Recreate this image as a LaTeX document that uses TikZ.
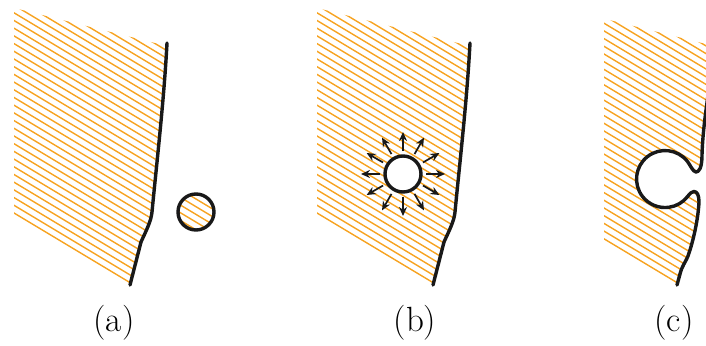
\documentclass[tikz,border=0pt]{standalone}
\usetikzlibrary{arrows.meta}
\definecolor{hatchorange}{RGB}{247,163,33}
\tikzset{
  hatchline/.style={hatchorange, line width=1.4pt},
  edgeline/.style={black!90, line width=3.4pt, line join=round, line cap=round},
  ray/.style={black!90, line width=1.7pt, -{Stealth[length=9pt,width=8pt]}},
  panellabel/.style={anchor=base, inner sep=0pt, font=\fontsize{35}{42}\selectfont},
}
\newcommand{\myhatch}{\foreach \k in {0,...,42} {\draw[hatchline] (0,{204.6-7.7*\k}) -- (760,{204.6-7.7*\k+456});}}
\begin{document}
\begin{tikzpicture}[x=1pt,y=-1pt]
\useasboundingbox (0,0) rectangle (706,345);
\clip (0,0) rectangle (706,345);
% ---------- panel (a) ----------
\begin{scope}
  \clip (14,8) -- (167,46) .. controls (164,100) and (157,160) .. (152,212)
        .. controls (151.2,221) and (146,231) .. (141,242) -- (130,286) -- (14,214) -- cycle;
  \myhatch
\end{scope}
\draw[edgeline] (167,43) .. controls (164,100) and (157,160) .. (152,212)
        .. controls (151.2,221) and (146,231) .. (141,242) -- (130,285);
\coordinate (ac) at (196,212);
\begin{scope}
  \clip (ac) circle[radius=18];
  \myhatch
\end{scope}
\draw[edgeline] (ac) circle[radius=18];
\node[panellabel] (la) at (114,331) {(a)};
% ---------- panel (b) ----------
\begin{scope}[xshift=303pt]
  \begin{scope}
    \clip (14,8) -- (167,46) .. controls (164,100) and (157,160) .. (152,212)
          .. controls (151.2,221) and (146,231) .. (141,242) -- (130,286) -- (14,214) -- cycle;
    \myhatch
  \end{scope}
  \draw[edgeline] (167,43) .. controls (164,100) and (157,160) .. (152,212)
          .. controls (151.2,221) and (146,231) .. (141,242) -- (130,285);
\end{scope}
\coordinate (bc) at (403,174);
\fill[white] (bc) circle[radius=18];
\draw[edgeline] (bc) circle[radius=18];
\foreach \a in {0,30,...,330} {
  \draw[ray] ([shift={(\a:23)}]bc) -- ([shift={(\a:42)}]bc);
}
\node[panellabel] (lb) at (415,331) {(b)};
% ---------- panel (c) ----------
\begin{scope}
  \clip (604,18.7) -- (714,46) .. controls (710,90) and (703,120) .. (702,155)
        .. controls (702,168) and (699,172) .. (696,172)
        .. controls (693,172) and (690,164.7) .. (687.5,161.5)
        arc[start angle=-38, end angle=-322, radius=28.5]
        .. controls (690,193.3) and (692,191.5) .. (694,191.5)
        .. controls (697,191.5) and (699,195) .. (699,202)
        .. controls (698,222) and (692,245) .. (688,256)
        .. controls (685,263) and (682,266) .. (680,274) -- (677,286) -- (604,240.7) -- cycle;
  \begin{scope}[xshift=547pt]
    \myhatch
  \end{scope}
\end{scope}
\draw[edgeline] (714,43) .. controls (710,90) and (703,120) .. (702,155)
        .. controls (702,168) and (699,172) .. (696,172)
        .. controls (693,172) and (690,164.7) .. (687.5,161.5)
        arc[start angle=-38, end angle=-322, radius=28.5]
        .. controls (690,193.3) and (692,191.5) .. (694,191.5)
        .. controls (697,191.5) and (699,195) .. (699,202)
        .. controls (698,222) and (692,245) .. (688,256)
        .. controls (685,263) and (682,266) .. (680,274) -- (677,285);
\node[panellabel] (lc) at (674,331) {(c)};
\end{tikzpicture}
\end{document}
